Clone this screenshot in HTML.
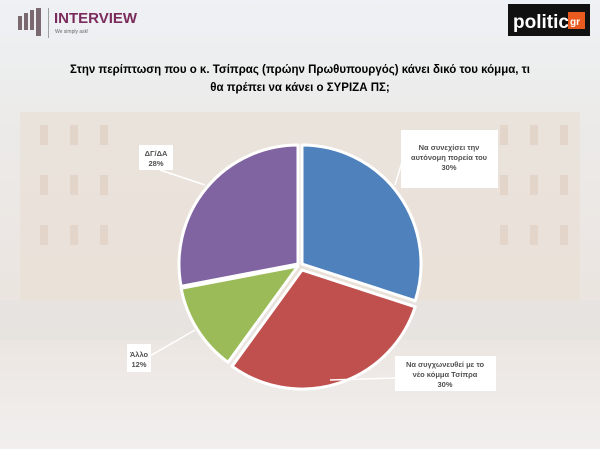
<!DOCTYPE html>
<html><head><meta charset="utf-8"><style>
body{margin:0;width:600px;height:449px;overflow:hidden;font-family:"Liberation Sans",sans-serif}
</style></head><body>
<svg width="600" height="449" xmlns="http://www.w3.org/2000/svg" font-family="Liberation Sans, sans-serif">
<defs><linearGradient id="bg" x1="0" y1="0" x2="0" y2="1">
<stop offset="0" stop-color="#eef1f5"/><stop offset="0.25" stop-color="#ecebea"/><stop offset="0.7" stop-color="#ebe4df"/><stop offset="1" stop-color="#f1efee"/></linearGradient></defs>
<rect width="600" height="449" fill="url(#bg)"/>
<rect x="20" y="112" width="560" height="190" fill="#eadfd6" opacity="0.7"/>
<g fill="#e2d2c6" opacity="0.8">
<rect x="40" y="125" width="8" height="20"/><rect x="70" y="125" width="8" height="20"/><rect x="100" y="125" width="8" height="20"/><rect x="500" y="125" width="8" height="20"/><rect x="530" y="125" width="8" height="20"/><rect x="560" y="125" width="8" height="20"/>
<rect x="40" y="175" width="8" height="20"/><rect x="70" y="175" width="8" height="20"/><rect x="100" y="175" width="8" height="20"/><rect x="500" y="175" width="8" height="20"/><rect x="530" y="175" width="8" height="20"/><rect x="560" y="175" width="8" height="20"/>
<rect x="40" y="225" width="8" height="20"/><rect x="70" y="225" width="8" height="20"/><rect x="100" y="225" width="8" height="20"/><rect x="500" y="225" width="8" height="20"/><rect x="530" y="225" width="8" height="20"/><rect x="560" y="225" width="8" height="20"/>
</g>
<rect x="0" y="300" width="600" height="40" fill="#e6e2e0" opacity="0.7"/>
<g fill="#7a6a70"><rect x="18" y="16" width="4" height="14"/><rect x="24" y="13" width="4" height="17"/><rect x="30" y="10" width="4" height="20"/><rect x="36" y="8" width="5" height="28"/></g>
<rect x="48" y="8" width="1" height="30" fill="#a0a0a0"/>
<text x="54" y="23" font-size="15" font-weight="bold" fill="#7b2b5b">INTERVIEW</text>
<text x="55" y="33" font-size="5" fill="#666">We simply ask!</text>
<rect x="508" y="4" width="82" height="32" fill="#111"/>
<text x="513" y="28" font-size="19" font-weight="bold" fill="#fff">politic</text>
<rect x="568" y="12" width="17" height="17" fill="#e85a1e"/>
<text x="570" y="25" font-size="10" font-weight="bold" fill="#fff">gr</text>
<text x="300" y="73" font-size="11.5" font-weight="bold" text-anchor="middle" fill="#000" textLength="460" lengthAdjust="spacingAndGlyphs">Στην περίπτωση που ο κ. Τσίπρας (πρώην Πρωθυπουργός) κάνει δικό του κόμμα, τι</text>
<text x="300" y="91" font-size="11.5" font-weight="bold" text-anchor="middle" fill="#000">θα πρέπει να κάνει ο ΣΥΡΙΖΑ ΠΣ;</text>
<g stroke="#fff" stroke-width="3" stroke-linejoin="round">
<path d="M302,264 L302,145 A119,119 0 0 1 415.2,300.8 Z" fill="#4f81bd"/>
<path d="M302,270 L415.2,306.8 A119,119 0 0 1 232.1,366.3 Z" fill="#c0504d"/>
<path d="M298,266 L228.1,362.3 A119,119 0 0 1 181.1,288.3 Z" fill="#9bbb59"/>
<path d="M298,264 L181.1,286.3 A119,119 0 0 1 298,145 Z" fill="#8064a2"/>
</g>
<g stroke="#fff" stroke-width="1.5" fill="none">
<path d="M402,162 L395,185"/><path d="M395,378 L330,380"/><path d="M150,356 L195,330"/><path d="M160,170 L205,185"/>
</g>
<g font-size="7.5" font-weight="bold" fill="#505050" text-anchor="middle">
<rect x="401" y="130" width="97" height="58" fill="#fff"/>
<text x="449" y="150">Να συνεχίσει την</text><text x="449" y="160">αυτόνομη πορεία του</text><text x="449" y="170">30%</text>
<rect x="395" y="356" width="101" height="35" fill="#fff"/>
<text x="445" y="367">Να συγχωνευθεί με το</text><text x="445" y="377">νέο κόμμα Τσίπρα</text><text x="445" y="387">30%</text>
<rect x="127" y="344" width="24" height="28" fill="#fff"/>
<text x="139" y="357">Άλλο</text><text x="139" y="367">12%</text>
<rect x="139" y="145" width="34" height="25" fill="#fff"/>
<text x="156" y="156">ΔΓ/ΔΑ</text><text x="156" y="166">28%</text>
</g>
</svg>
</body></html>
